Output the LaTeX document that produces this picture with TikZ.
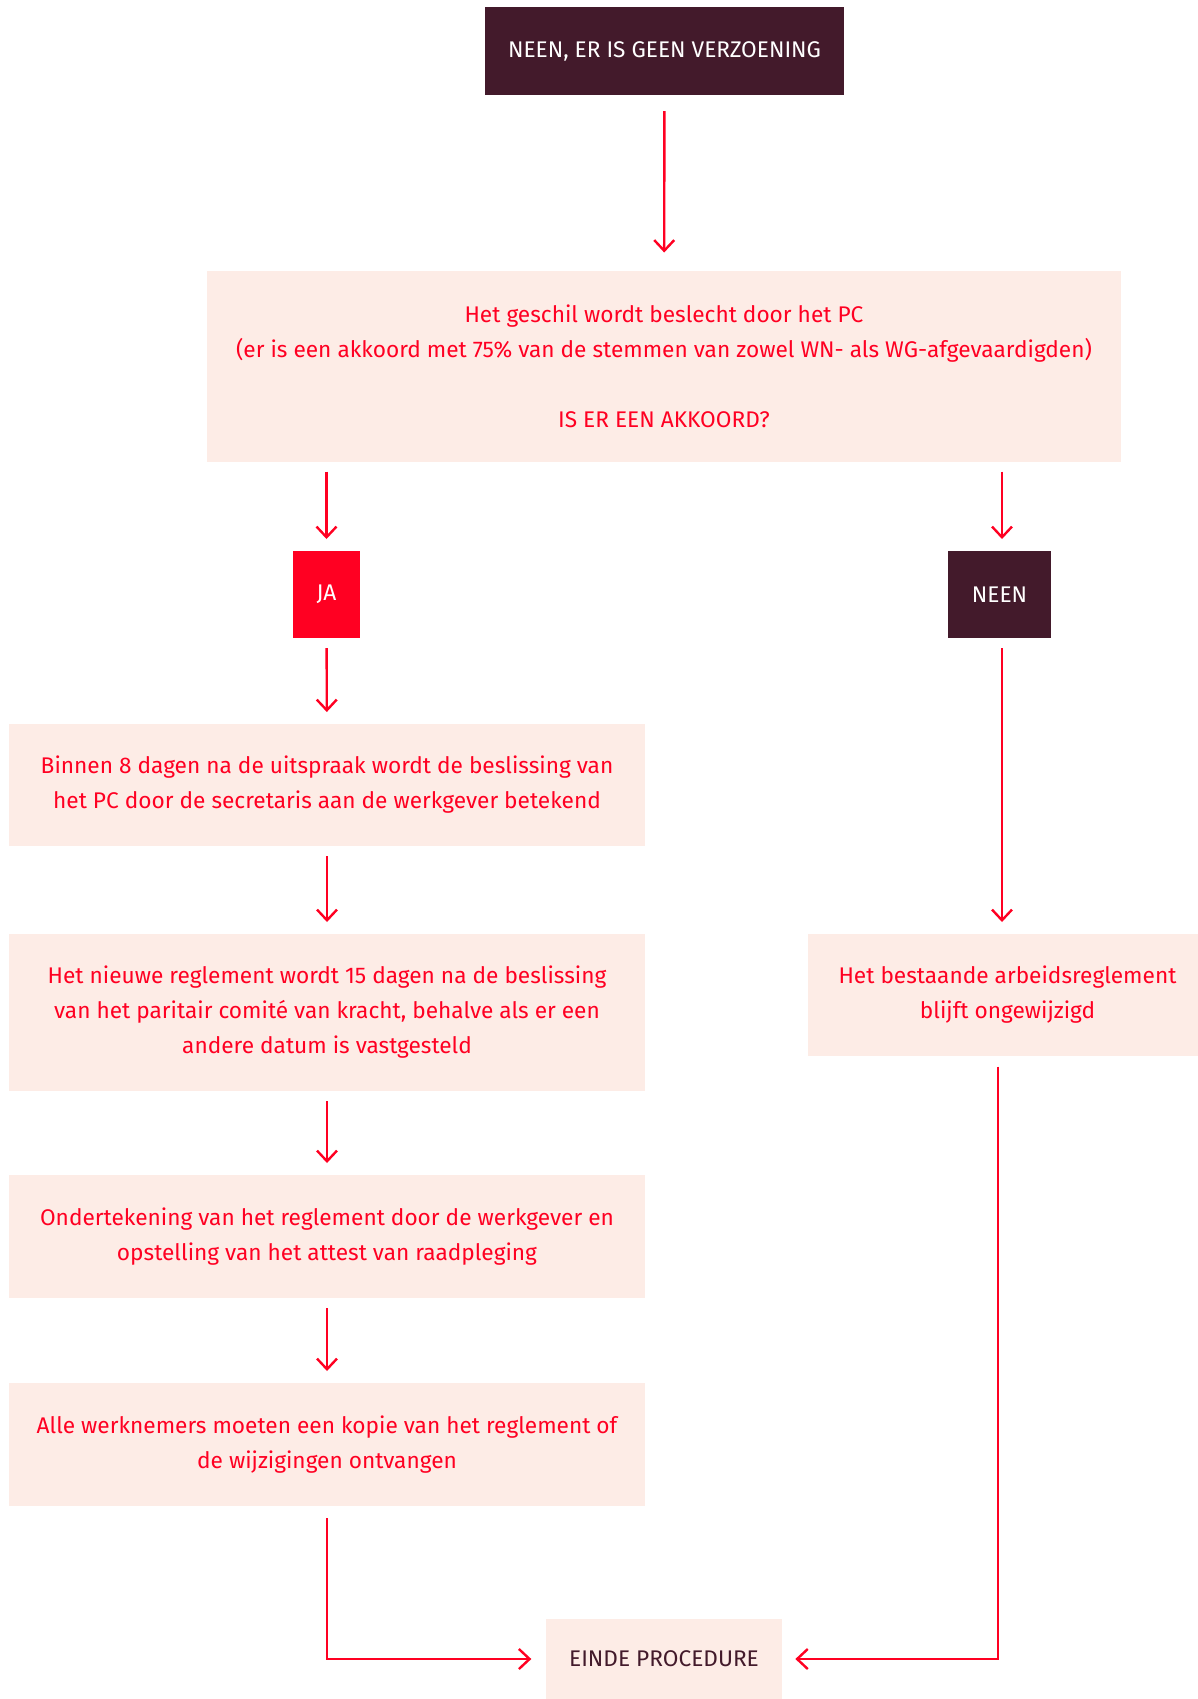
\documentclass[tikz,border=0pt]{standalone}
\usepackage{fontspec}
\setmainfont{Fira Sans}
\usetikzlibrary{arrows.meta,calc}
\definecolor{dark}{HTML}{431A2B}
\definecolor{brand}{HTML}{FF0022}
\definecolor{pale}{HTML}{FDECE6}
\begin{document}
\begin{tikzpicture}[x=0.75pt,y=-0.75pt,
  every node/.style={inner sep=0pt,outer sep=0pt,align=center,font=\fontsize{17pt}{26.25pt}\selectfont},
  darkbox/.style={fill=dark,text=white},
  redbox/.style={fill=brand,text=white},
  palebox/.style={fill=pale,text=brand},
  conn/.style={draw=brand,line width=1.8pt,-{Straight Barb[length=8pt,width=15pt,line width=1.8pt]},shorten <=7.5pt,shorten >=9pt},
  link/.style={draw=brand,line width=1.8pt,-{Straight Barb[length=8pt,width=15pt,line width=1.8pt]}}]
\useasboundingbox (0,0) rectangle (1197,1699);
\fill[white] (0,0) rectangle (1197,1699);
\node[darkbox,minimum width=359*0.75pt,minimum height=88*0.75pt] (top) at (664.5,51) {NEEN, ER IS GEEN VERZOENING};
\node[palebox,minimum width=914*0.75pt,minimum height=191*0.75pt] (pc) at (664,366) {Het geschil wordt beslecht door het PC\\(er is een akkoord met 75\% van de stemmen van zowel WN- als WG-afgevaardigden)\\[26.25pt]IS ER EEN AKKOORD?};
\node[redbox,minimum width=67*0.75pt,minimum height=87*0.75pt] (ja) at (326.5,594.5) {JA};
\node[darkbox,minimum width=103*0.75pt,minimum height=87*0.75pt] (neen) at (999.5,594.5) {NEEN};
\node[palebox,minimum width=636*0.75pt,minimum height=122*0.75pt] (b1) at (327,785) {Binnen 8 dagen na de uitspraak wordt de beslissing van\\het PC door de secretaris aan de werkgever betekend};
\node[palebox,minimum width=636*0.75pt,minimum height=157*0.75pt] (b2) at (327,1012.5) {Het nieuwe reglement wordt 15 dagen na de beslissing\\van het paritair comité van kracht, behalve als er een\\andere datum is vastgesteld};
\node[palebox,minimum width=636*0.75pt,minimum height=123*0.75pt] (b3) at (327,1236.5) {Ondertekening van het reglement door de werkgever en\\opstelling van het attest van raadpleging};
\node[palebox,minimum width=636*0.75pt,minimum height=123*0.75pt] (b4) at (327,1444.5) {Alle werknemers moeten een kopie van het reglement of\\de wijzigingen ontvangen};
\node[palebox,minimum width=399*0.75pt,minimum height=122*0.75pt] (rb) at (1007.5,995) {Het bestaande arbeidsreglement\\blijft ongewijzigd};
\node[palebox,text=dark,minimum width=236*0.75pt,minimum height=80*0.75pt] (end) at (664,1659) {EINDE PROCEDURE};
\coordinate (nx) at (1002,0);
\coordinate (rx) at (998,0);
\draw[conn,shorten <=12pt,shorten >=13.5pt] (top) -- (pc);
\draw[conn] (pc.south -| ja.north) -- (ja.north);
\draw[conn] (pc.south -| nx) -- (neen.north -| nx);
\draw[conn] (ja) -- (b1);
\draw[conn] (neen.south -| nx) -- (rb.north -| nx);
\draw[conn] (b1) -- (b2);
\draw[conn] (b2) -- (b3);
\draw[conn] (b3) -- (b4);
\draw[link,shorten <=9pt,shorten >=11pt] (b4.south) |- (end.west);
\draw[link,shorten <=8pt,shorten >=10pt] (rb.south -| rx) |- (end.east);
\end{tikzpicture}
\end{document}
